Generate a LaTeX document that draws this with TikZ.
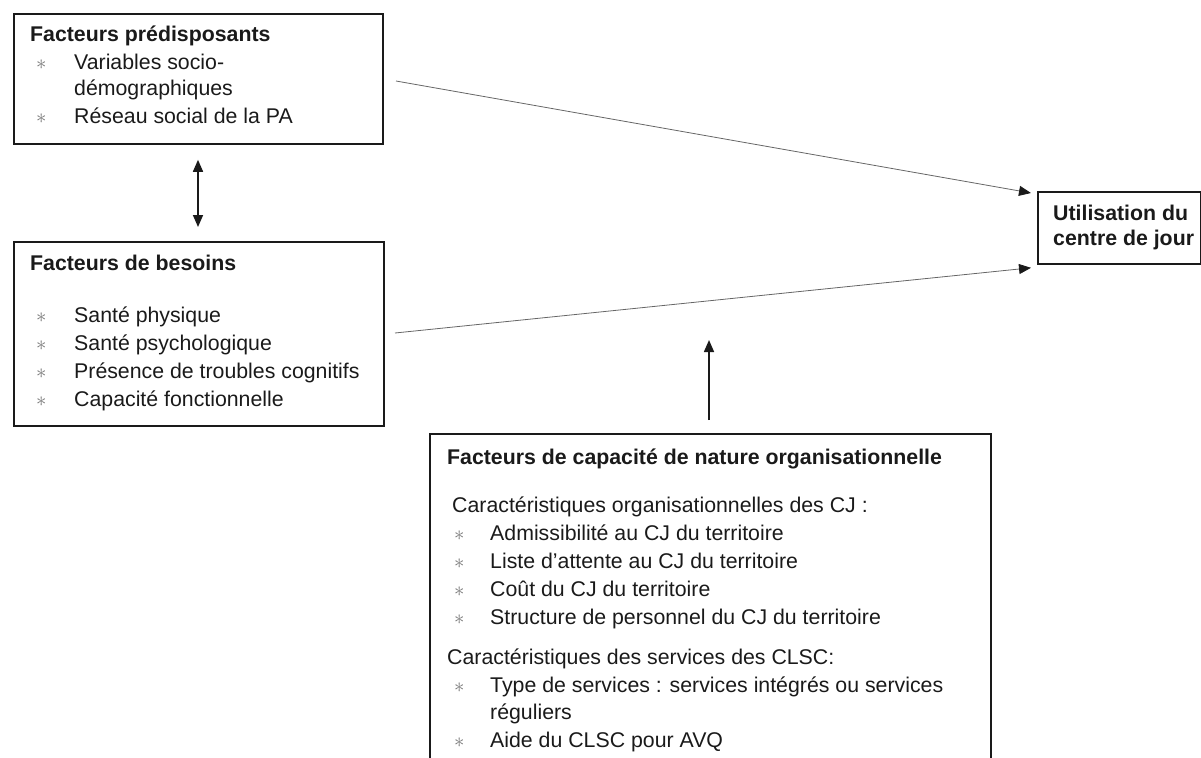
\documentclass[tikz,border=0pt]{standalone}
\usepackage{fontspec}
\setmainfont{Liberation Sans}
\usetikzlibrary{arrows.meta,calc}
\definecolor{ink}{HTML}{1A1A1A}
\definecolor{bulc}{HTML}{777777}
\newcommand{\diagfont}{\fontsize{21.3}{26}\selectfont}
\begin{document}
\begin{tikzpicture}[x=1pt,y=-1pt,
  box/.style={draw=ink,line width=1.8pt,inner sep=0pt,anchor=north west},
  txt/.style={anchor=base west,inner sep=0pt,text=ink,font=\diagfont},
  ttl/.style={anchor=base west,inner sep=0pt,text=ink,font=\diagfont\bfseries},
  bul/.style={anchor=base west,inner sep=0pt,text=bulc,font=\diagfont},
  tip/.style={-{Triangle[length=12pt,width=10pt,color=ink]}},
  thinarrow/.style={tip,draw=black!60,line width=0.8pt},
  thickarrow/.style={tip,draw=ink,line width=1.6pt},
  dblarrow/.style={{Triangle[length=12pt,width=10pt,color=ink]}-{Triangle[length=12pt,width=10pt,color=ink]},draw=ink,line width=1.6pt}]
\useasboundingbox (0,0) rectangle (1201,757);
\clip (0,0) rectangle (1201,757);

% boxes
\node[box,minimum width=369pt,minimum height=130pt] (b1) at (13,13) {};
\node[box,minimum width=370pt,minimum height=184pt] (b2) at (13,241) {};
\node[box,minimum width=163pt,minimum height=72pt] (b3) at (1037,191) {};
\node[box,minimum width=561pt,minimum height=400pt] (b4) at (429,433) {};

% box 1
\node[ttl] (t1) at (30,42) {Facteurs prédisposants};
\node[bul] (k11) at (36,70) {$\ast$};
\node[txt] (l11) at (74,70) {Variables socio-};
\node[txt] (l12) at (74,96) {démographiques};
\node[bul] (k13) at (36,124) {$\ast$};
\node[txt] (l13) at (74,124) {Réseau social de la PA};

% box 2
\node[ttl] (t2) at (30,270) {Facteurs de besoins};
\node[bul] (k21) at (36,322) {$\ast$};
\node[txt] (l21) at (74,322) {Santé physique};
\node[bul] (k22) at (36,350) {$\ast$};
\node[txt] (l22) at (74,350) {Santé psychologique};
\node[bul] (k23) at (36,378) {$\ast$};
\node[txt] (l23) at (74,378) {Présence de troubles cognitifs};
\node[bul] (k24) at (36,406) {$\ast$};
\node[txt] (l24) at (74,406) {Capacité fonctionnelle};

% box 3
\node[ttl] (t31) at (1053,220) {Utilisation du};
\node[ttl] (t32) at (1053,245) {centre de jour};

% box 4
\node[ttl] (t4) at (447,464) {Facteurs de capacité de nature organisationnelle};
\node[txt] (s41) at (452,512) {Caractéristiques organisationnelles des CJ :};
\node[bul] (k41) at (454,540) {$\ast$};
\node[txt] (l41) at (490,540) {Admissibilité au CJ du territoire};
\node[bul] (k42) at (454,568) {$\ast$};
\node[txt] (l42) at (490,568) {Liste d’attente au CJ du territoire};
\node[bul] (k43) at (454,596) {$\ast$};
\node[txt] (l43) at (490,596) {Coût du CJ du territoire};
\node[bul] (k44) at (454,624) {$\ast$};
\node[txt] (l44) at (490,624) {Structure de personnel du CJ du territoire};
\node[txt] (s42) at (447,664) {Caractéristiques des services des CLSC:};
\node[bul] (k45) at (454,692) {$\ast$};
\node[txt] (l45) at (490,692) {Type de services : services intégrés ou services};
\node[txt] (l46) at (490,719) {réguliers};
\node[bul] (k47) at (454,747) {$\ast$};
\node[txt] (l47) at (490,747) {Aide du CLSC pour AVQ};

% connectors
\coordinate (s1) at (396,81);
\coordinate (s2) at (395,333);
\coordinate (v) at (198,0);
\coordinate (vt) at (709,340);
\draw[thinarrow] (s1) -- ([xshift=-6pt,yshift=-2pt]b3.north west);
\draw[thinarrow] (s2) -- ([xshift=-6pt,yshift=-3pt]b3.south west);
\draw[dblarrow,shorten <=15pt,shorten >=14pt] (b1.south -| v) -- (b2.north -| v);
\draw[thickarrow,shorten <=13pt] (b4.north -| vt) -- (vt);
\end{tikzpicture}
\end{document}
